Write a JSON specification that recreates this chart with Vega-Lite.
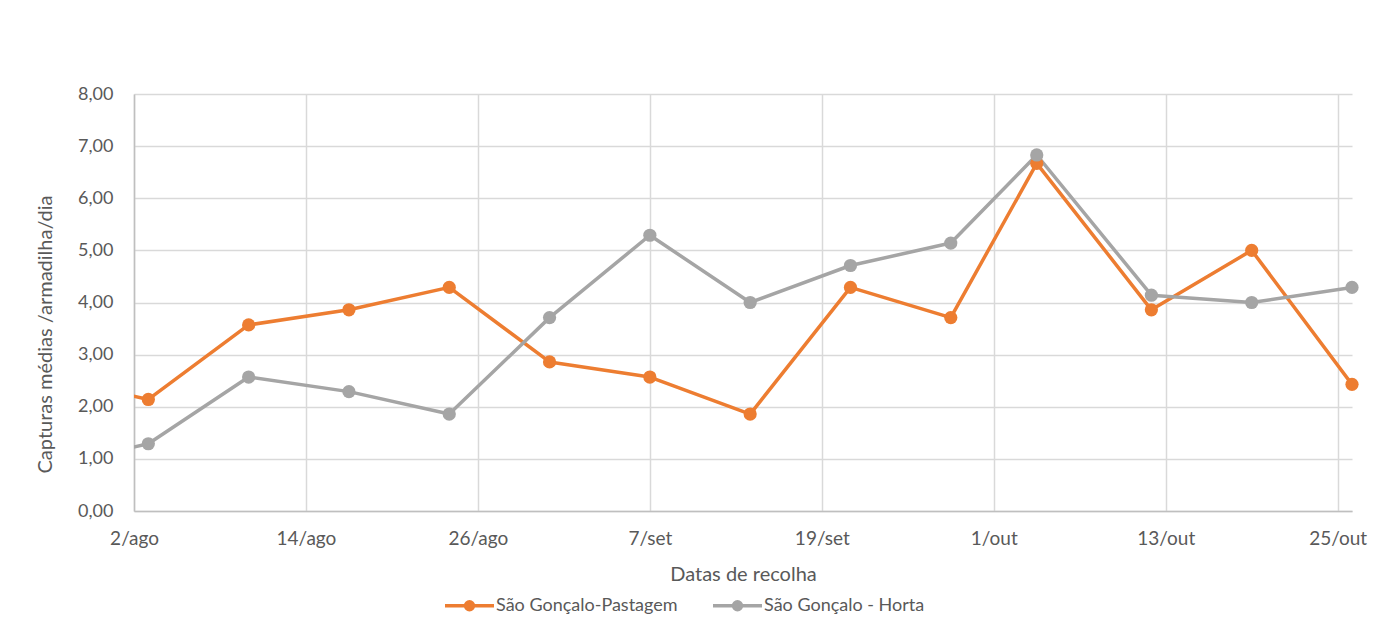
{
  "$schema": "https://vega.github.io/schema/vega-lite/v6.json",
  "width": 1218,
  "height": 417,
  "autosize": {"type": "none"},
  "padding": {"left": 134, "top": 94, "right": 42, "bottom": 123},
  "background": "white",
  "config": {"view": {"stroke": null}},
  "data": {
    "values": [
      {"date": "2020-07-27", "series": "São Gonçalo-Pastagem", "value": 2.57},
      {"date": "2020-08-03", "series": "São Gonçalo-Pastagem", "value": 2.14},
      {"date": "2020-08-10", "series": "São Gonçalo-Pastagem", "value": 3.57},
      {"date": "2020-08-17", "series": "São Gonçalo-Pastagem", "value": 3.86},
      {"date": "2020-08-24", "series": "São Gonçalo-Pastagem", "value": 4.29},
      {"date": "2020-08-31", "series": "São Gonçalo-Pastagem", "value": 2.86},
      {"date": "2020-09-07", "series": "São Gonçalo-Pastagem", "value": 2.57},
      {"date": "2020-09-14", "series": "São Gonçalo-Pastagem", "value": 1.86},
      {"date": "2020-09-21", "series": "São Gonçalo-Pastagem", "value": 4.29},
      {"date": "2020-09-28", "series": "São Gonçalo-Pastagem", "value": 3.71},
      {"date": "2020-10-04", "series": "São Gonçalo-Pastagem", "value": 6.67},
      {"date": "2020-10-12", "series": "São Gonçalo-Pastagem", "value": 3.86},
      {"date": "2020-10-19", "series": "São Gonçalo-Pastagem", "value": 5.0},
      {"date": "2020-10-26", "series": "São Gonçalo-Pastagem", "value": 2.43},
      {"date": "2020-07-27", "series": "São Gonçalo - Horta", "value": 0.86},
      {"date": "2020-08-03", "series": "São Gonçalo - Horta", "value": 1.29},
      {"date": "2020-08-10", "series": "São Gonçalo - Horta", "value": 2.57},
      {"date": "2020-08-17", "series": "São Gonçalo - Horta", "value": 2.29},
      {"date": "2020-08-24", "series": "São Gonçalo - Horta", "value": 1.86},
      {"date": "2020-08-31", "series": "São Gonçalo - Horta", "value": 3.71},
      {"date": "2020-09-07", "series": "São Gonçalo - Horta", "value": 5.29},
      {"date": "2020-09-14", "series": "São Gonçalo - Horta", "value": 4.0},
      {"date": "2020-09-21", "series": "São Gonçalo - Horta", "value": 4.71},
      {"date": "2020-09-28", "series": "São Gonçalo - Horta", "value": 5.14},
      {"date": "2020-10-04", "series": "São Gonçalo - Horta", "value": 6.83},
      {"date": "2020-10-12", "series": "São Gonçalo - Horta", "value": 4.14},
      {"date": "2020-10-19", "series": "São Gonçalo - Horta", "value": 4.0},
      {"date": "2020-10-26", "series": "São Gonçalo - Horta", "value": 4.29}
    ]
  },
  "encoding": {
    "x": {
      "field": "date",
      "type": "temporal",
      "scale": {
        "type": "utc",
        "domain": [
          {"year": 2020, "month": 8, "date": 2, "utc": true},
          {"year": 2020, "month": 10, "date": 26, "utc": true}
        ]
      },
      "axis": {
        "title": "Datas de recolha",
        "values": [
          {"year": 2020, "month": 8, "date": 2, "utc": true},
          {"year": 2020, "month": 8, "date": 14, "utc": true},
          {"year": 2020, "month": 8, "date": 26, "utc": true},
          {"year": 2020, "month": 9, "date": 7, "utc": true},
          {"year": 2020, "month": 9, "date": 19, "utc": true},
          {"year": 2020, "month": 10, "date": 1, "utc": true},
          {"year": 2020, "month": 10, "date": 13, "utc": true},
          {"year": 2020, "month": 10, "date": 25, "utc": true}
        ],
        "labelExpr": "utcdate(datum.value) + '/' + ['jan','fev','mar','abr','mai','jun','jul','ago','set','out','nov','dez'][utcmonth(datum.value)]",
        "grid": true,
        "gridColor": "#D9D9D9",
        "gridWidth": 1.5,
        "domainColor": "#BFBFBF",
        "domainWidth": 1.5,
        "ticks": false,
        "tickSize": 0,
        "labelFlush": false,
        "labelOverlap": false,
        "labelPadding": 18,
        "titlePadding": 16,
        "labelFont": "Lato",
        "titleFont": "Lato",
        "labelFontSize": 19,
        "titleFontSize": 20,
        "titleFontWeight": "normal",
        "labelColor": "#595959",
        "titleColor": "#595959"
      }
    },
    "y": {
      "field": "value",
      "type": "quantitative",
      "scale": {"domain": [0, 8], "nice": false, "zero": true},
      "axis": {
        "title": "Capturas médias /armadilha/dia",
        "values": [0, 1, 2, 3, 4, 5, 6, 7, 8],
        "labelExpr": "replace(format(datum.value, '.2f'), '.', ',')",
        "grid": true,
        "gridColor": "#D9D9D9",
        "gridWidth": 1.5,
        "domainColor": "#BFBFBF",
        "domainWidth": 1.5,
        "ticks": false,
        "tickSize": 0,
        "labelPadding": 21,
        "titlePadding": 22,
        "titleY": 240,
        "labelFont": "Lato",
        "titleFont": "Lato",
        "labelFontSize": 18,
        "titleFontSize": 20,
        "titleFontWeight": "normal",
        "labelColor": "#595959",
        "titleColor": "#595959"
      }
    },
    "color": {
      "field": "series",
      "type": "nominal",
      "scale": {
        "domain": ["São Gonçalo-Pastagem", "São Gonçalo - Horta"],
        "range": ["#ED7D31", "#A5A5A5"]
      },
      "legend": {
        "title": null,
        "orient": "none",
        "legendX": 309,
        "legendY": 485,
        "direction": "horizontal",
        "symbolType": "M-1,0H1M0.16,0A0.16,0.16,0,1,1,-0.16,0A0.16,0.16,0,1,1,0.16,0",
        "symbolSize": 2401,
        "symbolStrokeWidth": 3.5,
        "symbolOpacity": 1,
        "labelFont": "Lato",
        "labelFontSize": 18,
        "labelColor": "#595959",
        "labelLimit": 0,
        "labelOffset": 0,
        "columnPadding": 28,
        "encode": {
          "symbols": {
            "update": {
              "fill": {"scale": "color", "field": "value"},
              "stroke": {"scale": "color", "field": "value"}
            }
          }
        }
      }
    }
  },
  "layer": [
    {
      "mark": {"type": "line", "strokeWidth": 3.5, "clip": true, "strokeJoin": "round", "strokeCap": "round"}
    },
    {
      "transform": [{"filter": "toDate(datum.date) >= utc(2020, 7, 2)"}],
      "mark": {"type": "point", "filled": true, "opacity": 1, "size": 175}
    }
  ]
}
